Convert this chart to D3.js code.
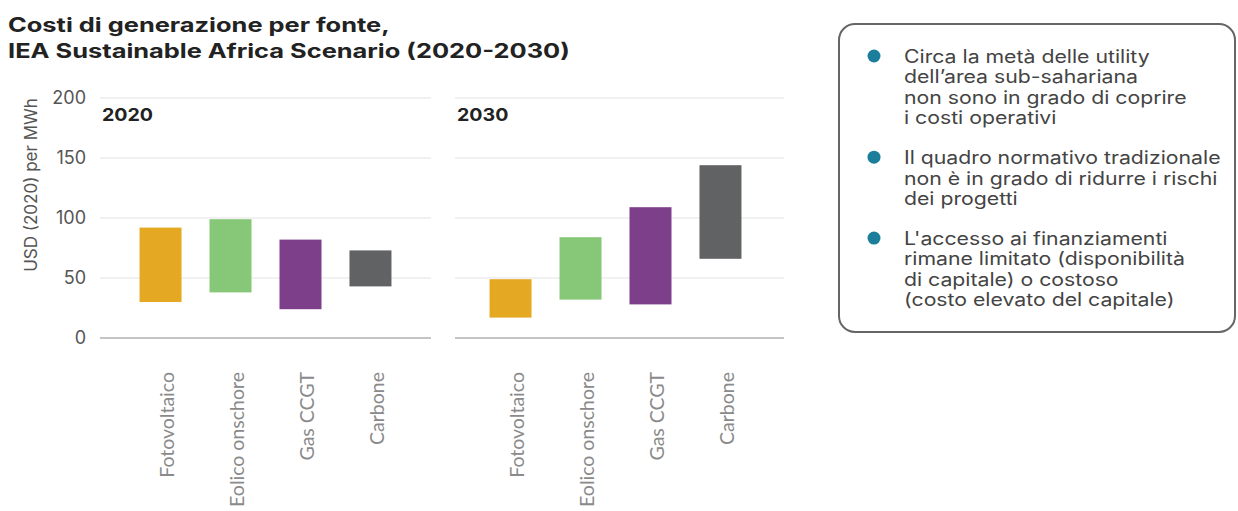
<!DOCTYPE html>
<html>
<head>
<meta charset="utf-8">
<script src="https://cdn.jsdelivr.net/npm/d3@7"></script>
<style>
  body { margin: 0; background: #fff; }
  svg { display: block; }
</style>
</head>
<body>
<svg id="chart" width="1238" height="511"></svg>
<script>
// data
var categories = ["Fotovoltaico", "Eolico onschore", "Gas CCGT", "Carbone"];
var years = ["2020", "2030"];
var low2020 = [30, 38, 24, 43];
var high2020 = [92, 99, 82, 73];
var low2030 = [17, 32, 28, 66];
var high2030 = [49, 84, 109, 144];
var yTicks = [0, 50, 100, 150, 200];
var colors = ["#e5a823", "#87c878", "#7e3f8a", "#616264"];
var titleLines = ["Costi di generazione per fonte,", "IEA Sustainable Africa Scenario (2020-2030)"];
var notes = [
    ["Circa la metà delle utility", "dell\u2019area sub-sahariana", "non sono in grado di coprire", "i costi operativi"],
    ["Il quadro normativo tradizionale", "non è in grado di ridurre i rischi", "dei progetti"],
    ["L'accesso ai finanziamenti", "rimane limitato (disponibilità", "di capitale) o costoso", "(costo elevato del capitale)"]
];

var svg = d3.select("#chart");

// the source picture is a bit wider than tall, so the text is stretched sideways
function wideText(x, y, sx, str) {
    return svg.append("g")
        .attr("transform", "translate(" + x + "," + y + ") scale(" + sx + ",1)")
        .append("text")
        .attr("font-family", "Inter, sans-serif")
        .text(str);
}

// title
titleLines.forEach(function (t, i) {
    wideText(8, 32 + i * 26, 1.27, t)
        .attr("font-weight", 700)
        .attr("font-size", 20)
        .attr("fill", "#222");
});

var y = d3.scaleLinear().domain([0, 200]).range([338, 98]);

var panels = [
    {year: years[0], low: low2020, high: high2020, x0: 100, x1: 431, b0: 100, b1: 431},
    {year: years[1], low: low2030, high: high2030, x0: 455, x1: 784, b0: 450, b1: 781}
];

// y axis labels
var yAxis = svg.append("g")
    .attr("transform", "translate(86,0)")
    .call(d3.axisLeft(y).tickValues(yTicks).tickSize(0).tickPadding(0));
yAxis.select(".domain").remove();
yAxis.selectAll("text")
    .attr("font-family", "Inter, sans-serif")
    .attr("font-size", 18)
    .attr("fill", "#555");

svg.append("text")
    .attr("transform", "translate(37,185) rotate(-90)")
    .attr("text-anchor", "middle")
    .attr("font-family", "Inter, sans-serif")
    .attr("font-size", 17)
    .attr("fill", "#555")
    .text("USD (2020) per MWh");

panels.forEach(function (p) {
    var g = svg.append("g");

    g.selectAll(".grid")
        .data(yTicks)
        .enter()
        .append("line")
        .attr("x1", p.x0)
        .attr("x2", p.x1)
        .attr("y1", function (d) { return y(d); })
        .attr("y2", function (d) { return y(d); })
        .attr("stroke", function (d) { return d === 0 ? "#b0b0b0" : "#e3e3e3"; })
        .attr("stroke-width", function (d) { return d === 0 ? 1.5 : 1; });

    wideText(p.x0 + 2, 121, 1.12, p.year)
        .attr("font-weight", 700)
        .attr("font-size", 17.5)
        .attr("fill", "#222");

    var x = d3.scaleBand()
        .domain(categories)
        .range([p.b0, p.b1])
        .paddingInner(0.4)
        .paddingOuter(0.565);

    g.selectAll(".bar")
        .data(categories)
        .enter()
        .append("rect")
        .attr("x", function (d) { return x(d); })
        .attr("width", x.bandwidth())
        .attr("y", function (d, i) { return y(p.high[i]); })
        .attr("height", function (d, i) { return y(p.low[i]) - y(p.high[i]); })
        .attr("fill", function (d, i) { return colors[i]; });

    var xAxis = g.append("g")
        .attr("transform", "translate(0,338)")
        .call(d3.axisBottom(x).tickSize(0));
    xAxis.select(".domain").remove();
    xAxis.selectAll("text")
        .attr("transform", "rotate(-90)")
        .attr("text-anchor", "end")
        .attr("x", -34)
        .attr("y", 7)
        .attr("dy", "0.35em")
        .attr("font-family", "Lato, sans-serif")
        .attr("font-size", 19.5)
        .attr("fill", "#8a8a8a");
});

// note box
svg.append("rect")
    .attr("x", 839)
    .attr("y", 24)
    .attr("width", 396)
    .attr("height", 308)
    .attr("rx", 16)
    .attr("fill", "#fff")
    .attr("stroke", "#666")
    .attr("stroke-width", 2);

var lineY = 63;
notes.forEach(function (lines) {
    svg.append("circle")
        .attr("cx", 874)
        .attr("cy", lineY - 7)
        .attr("r", 6.5)
        .attr("fill", "#1b7f9b");
    lines.forEach(function (t) {
        wideText(904, lineY, 1.18, t)
            .attr("font-size", 18)
            .attr("fill", "#444");
        lineY += 20.3;
    });
    lineY += 20;
});
</script>
</body>
</html>
